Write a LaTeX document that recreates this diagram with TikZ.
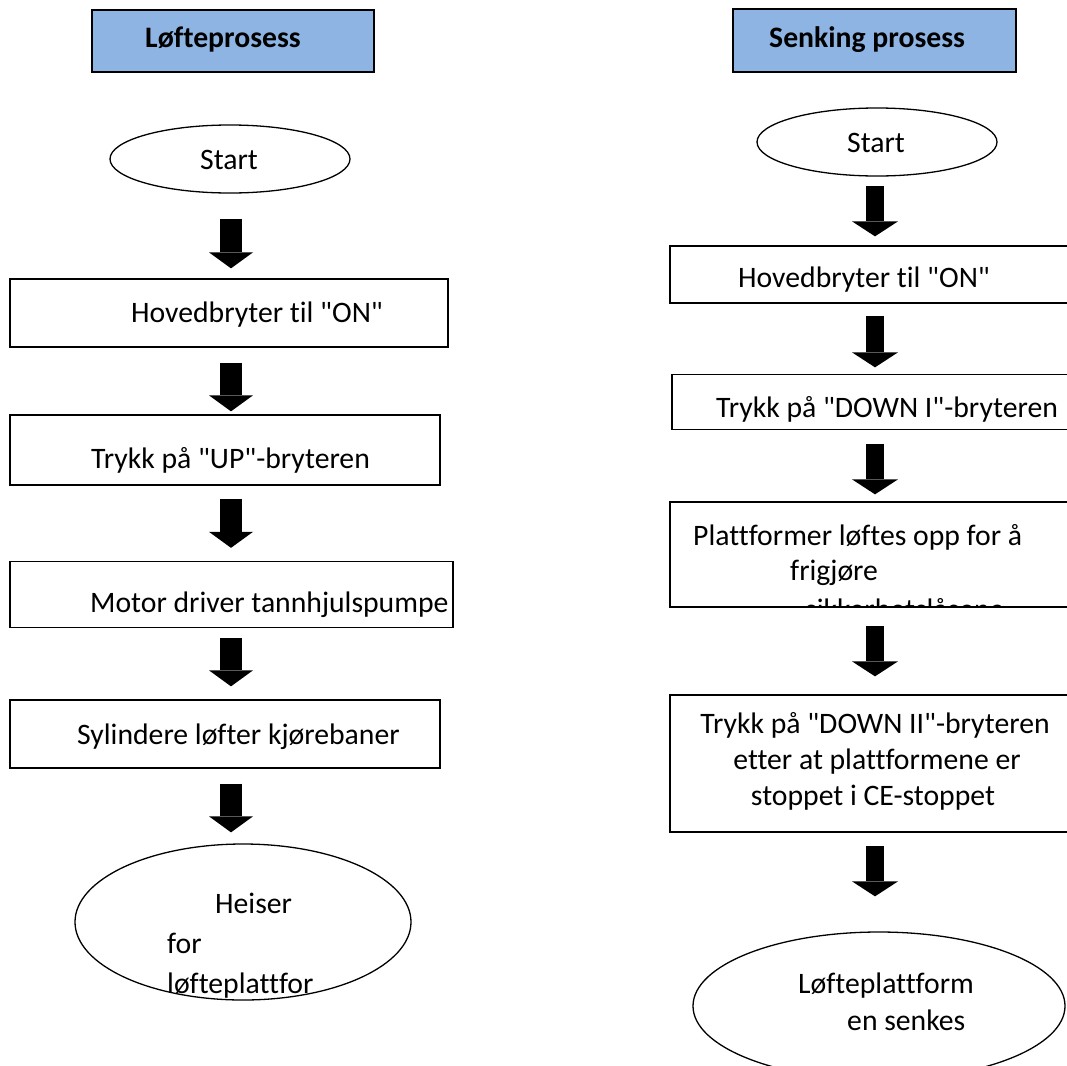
\documentclass[tikz,border=0pt]{standalone}
\usepackage{fontspec}
\setmainfont{Carlito}[Ligatures={TeXOff,NoCommon}]
\usetikzlibrary{shapes.geometric,arrows.meta}
\definecolor{hdrblue}{RGB}{142,180,227}
\begin{document}
\begin{tikzpicture}[x=1pt,y=-1pt,
  box/.style={draw, line width=1.3pt, rectangle, inner sep=0pt},
  hdr/.style={box, fill=hdrblue},
  oval/.style={draw, line width=1.3pt, ellipse, inner sep=0pt},
  txt/.style={inner sep=0pt, font=\fontsize{29.7}{36}\selectfont},
  btxt/.style={inner sep=0pt, font=\fontsize{29.7}{36}\selectfont\bfseries},
  blkL/.style={line width=22pt, -{Triangle[length=16pt,width=44pt,line width=0pt]}},
  blkR/.style={line width=18pt, -{Triangle[length=15pt,width=46pt,line width=0pt]}}]
\useasboundingbox (0,0) rectangle (1067,1065);
\fill[white] (0,0) rectangle (1067,1065);
\clip (0,0) rectangle (1067,1065);

% ---------- left column ----------
\node[hdr, minimum width=282pt, minimum height=62pt] (HL) at (233,41) {};
\node[btxt, anchor=base west] (tHL) at (145,48) {Løfteprosess};

\node[oval, minimum width=240pt, minimum height=68pt] (LS) at (230,159) {};
\node[txt, anchor=base] (tLS) at (229,169) {Start};

\node[box, minimum width=438pt, minimum height=68pt] (L1) at (229,313) {};
\node[txt, anchor=base west] (tL1) at (131,322) {Hovedbryter til "ON"};

\node[box, minimum width=430pt, minimum height=70pt] (L2) at (225,450) {};
\node[txt, anchor=base west] (tL2) at (91,468) {Trykk på "UP"-bryteren};

\node[box, minimum width=443pt, minimum height=66pt] (L3) at (231.5,594.5) {};
\node[txt, anchor=base west] (tL3) at (90,612) {Motor driver tannhjulspumpe};

\node[box, minimum width=430pt, minimum height=68pt] (L4) at (225,734) {};
\node[txt, anchor=base west] (tL4) at (77,744) {Sylindere løfter kjørebaner};

\node[oval, minimum width=336pt, minimum height=156pt] (LE) at (243,922) {};
\node[txt, anchor=base west] (tLE1) at (215,913) {Heiser};
\node[txt, anchor=base west] (tLE2) at (167,953) {for};
\node[txt, anchor=base west] (tLE3) at (167,993) {løfteplattfor};

\draw[blkL] ([xshift=1pt,yshift=-25pt]LS.south) -- ([xshift=2pt,yshift=10pt]L1.north);
\draw[blkL] ([xshift=2pt,yshift=-15pt]L1.south) -- ([xshift=6pt,yshift=3pt]L2.north);
\draw[blkL] ([xshift=6pt,yshift=-13pt]L2.south) -- ([xshift=-0.5pt,yshift=13pt]L3.north);
\draw[blkL] ([xshift=-0.5pt,yshift=-9.5pt]L3.south) -- ([xshift=6pt,yshift=13pt]L4.north);
\draw[blkL] ([xshift=6pt,yshift=-15pt]L4.south) -- ([xshift=-12pt,yshift=11pt]LE.north);

% ---------- right column ----------
\node[hdr, minimum width=283pt, minimum height=63pt] (HR) at (874.5,40.5) {};
\node[btxt, anchor=base west] (tHR) at (769,48) {Senking prosess};

\node[oval, minimum width=240pt, minimum height=68pt] (RS) at (877,142) {};
\node[txt, anchor=base] (tRS) at (876,152) {Start};

\node[box, minimum width=410pt, minimum height=57pt] (R1) at (875,274.5) {};
\node[txt, anchor=base west] (tR1) at (738,287) {Hovedbryter til "ON"};

\node[box, minimum width=408pt, minimum height=55pt] (R2) at (876,402) {};
\node[txt, anchor=base west] (tR2) at (716,417) {Trykk på "DOWN I"-bryteren};

\node[box, minimum width=410pt, minimum height=105pt] (R3) at (875,554.5) {};
\node[txt, anchor=base west] (tR3a) at (693,545) {Plattformer løftes opp for å};
\node[txt, anchor=base west] (tR3b) at (790,580) {frigjøre};
\begin{scope}
  \clip (R3.north west) rectangle (R3.south east);
  \node[txt, anchor=base west] (tR3c) at (805,619) {sikkerhetslåsene};
\end{scope}

\node[box, minimum width=410pt, minimum height=137pt] (R4) at (875,763.5) {};
\node[txt, anchor=base] (tR4a) at (875,733) {Trykk på "DOWN II"-bryteren};
\node[txt, anchor=base] (tR4b) at (877,769) {etter at plattformene er};
\node[txt, anchor=base] (tR4c) at (873,805) {stoppet i CE-stoppet};

\node[oval, minimum width=372pt, minimum height=148pt] (RE) at (879,1006) {};
\node[txt, anchor=base west] (tRE1) at (798,993) {Løfteplattform};
\node[txt, anchor=base west] (tRE2) at (847,1030) {en senkes};

\draw[blkR] ([xshift=-2pt,yshift=-9pt]RS.south) -- ([yshift=9pt]R1.north);
\draw[blkR] ([yshift=-12pt]R1.south) -- ([xshift=-1pt,yshift=6.5pt]R2.north);
\draw[blkR] ([xshift=-1pt,yshift=-13.5pt]R2.south) -- ([yshift=7pt]R3.north);
\draw[blkR] ([yshift=-18pt]R3.south) -- ([yshift=18pt]R4.north);
\draw[blkR] ([yshift=-13pt]R4.south) -- ([xshift=-4pt,yshift=35pt]RE.north);
\end{tikzpicture}
\end{document}
